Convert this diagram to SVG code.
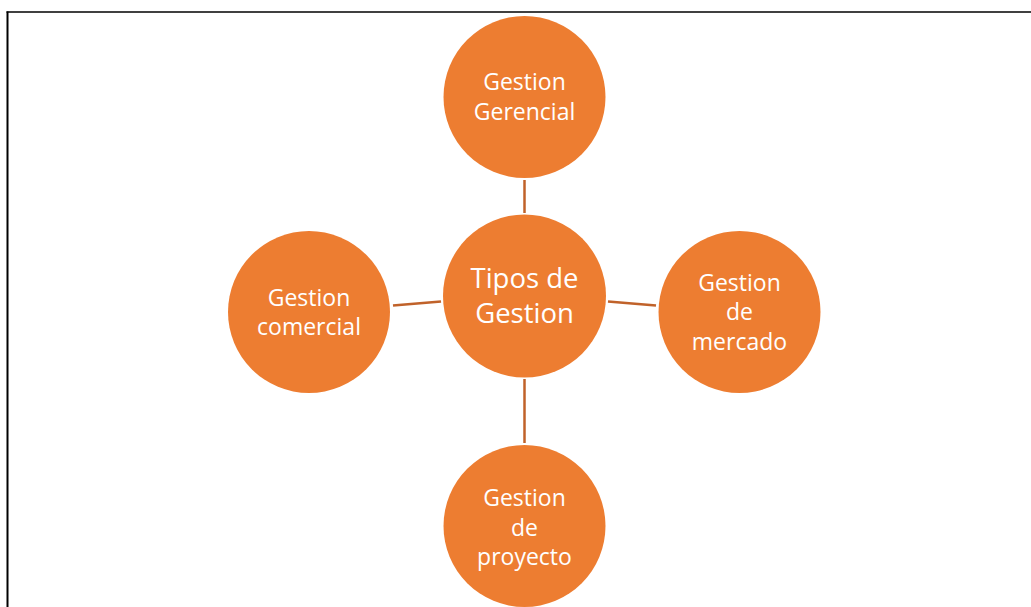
<svg xmlns="http://www.w3.org/2000/svg" width="1031" height="607" viewBox="0 0 1031 607">
<style>
.n{fill:#ED7D31;}
.t{fill:#FFFFFF;font-family:"Open Sans","Liberation Sans",sans-serif;font-size:23px;text-anchor:middle;}
.c{font-size:27.5px;}
.l{stroke:#C0622A;stroke-width:2.5;fill:none;}
</style>
<rect width="1031" height="607" fill="#FFFFFF"/>
<g id="frame" stroke="#000" fill="none">
<line x1="6.5" y1="12" x2="1031" y2="12" stroke-width="1.5"/>
<line x1="7.5" y1="11.5" x2="7.5" y2="607" stroke-width="2"/>
</g>
<g id="connectors">
<line class="l" x1="524.5" y1="180" x2="524.5" y2="213"/>
<line class="l" x1="524.5" y1="379" x2="524.5" y2="443"/>
<line class="l" x1="393" y1="305.5" x2="441" y2="301.5"/>
<line class="l" x1="608" y1="301.5" x2="656" y2="305.5"/>
</g>
<g id="center">
<circle class="n" cx="524.5" cy="296" r="81.5"/>
<text class="t c" x="524.5" y="288">Tipos de</text>
<text class="t c" x="524.5" y="323">Gestion</text>
</g>
<g id="top">
<circle class="n" cx="524.5" cy="97" r="81"/>
<text class="t" x="524.5" y="90">Gestion</text>
<text class="t" x="524.5" y="119.5">Gerencial</text>
</g>
<g id="left">
<circle class="n" cx="309" cy="312" r="81"/>
<text class="t" x="309" y="305.5">Gestion</text>
<text class="t" x="309" y="334.5">comercial</text>
</g>
<g id="right">
<circle class="n" cx="739.5" cy="312" r="81"/>
<text class="t" x="739.5" y="290.5">Gestion</text>
<text class="t" x="739.5" y="320">de</text>
<text class="t" x="739.5" y="349.5">mercado</text>
</g>
<g id="bottom">
<circle class="n" cx="524.5" cy="526" r="81"/>
<text class="t" x="524.5" y="506">Gestion</text>
<text class="t" x="524.5" y="535.5">de</text>
<text class="t" x="524.5" y="564.5">proyecto</text>
</g>
</svg>
